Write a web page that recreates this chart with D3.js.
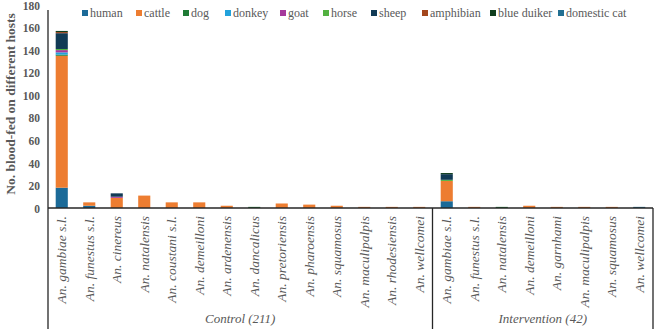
<!DOCTYPE html>
<html lang="en">
<head>
<meta charset="UTF-8">
<title>Blood-fed Anopheles by host</title>
<script src="https://d3js.org/d3.v7.min.js"></script>
</head>
<body style="margin:0; background:#fff">
<div id="chart"></div>
<script>
// categories, per group
var controlSpecies = ["An. gambiae s.l.", "An. funestus s.l.", "An. cinereus", "An. natalensis",
  "An. coustani s.l.", "An. demeilloni", "An. ardenensis", "An. dancalicus", "An. pretoriensis",
  "An. pharoensis", "An. squamosus", "An. maculipalpis", "An. rhodesiensis", "An. wellcomei"];
var interventionSpecies = ["An. gambiae s.l.", "An. funestus s.l.", "An. natalensis", "An. demeilloni",
  "An. garnhami", "An. maculipalpis", "An. squamosus", "An. wellcomei"];
var groupLabels = ["Control (211)", "Intervention (42)"];

var hosts = ["human", "cattle", "dog", "donkey", "goat", "horse", "sheep", "amphibian", "blue duiker", "domestic cat"];
var hostColors = ["#1b6a98", "#ed7d31", "#1f7a35", "#22a2dc", "#a6399b", "#52b140", "#113a55", "#a3461c", "#0f3d1d", "#226f92"];

// counts: 14 control values then 8 intervention values
var human       = [18, 2, 0, 0, 0, 0, 0, 0, 0, 0, 0, 0, 0, 0,   6, 0, 0, 0, 0, 0, 0, 0];
var cattle      = [117, 3, 9, 11, 5, 5, 2, 0, 4, 3, 2, 1, 1, 1, 18, 1, 0, 2, 1, 1, 1, 0];
var dog         = [1, 0, 0, 0, 0, 0, 0, 1, 0, 0, 0, 0, 0, 0,    0, 0, 1, 0, 0, 0, 0, 0];
var donkey      = [2, 0, 0, 0, 0, 0, 0, 0, 0, 0, 0, 0, 0, 0,    0, 0, 0, 0, 0, 0, 0, 0];
var goat        = [2, 0, 1, 0, 0, 0, 0, 0, 0, 0, 0, 0, 0, 0,    0, 0, 0, 0, 0, 0, 0, 0];
var horse       = [1, 0, 0, 0, 0, 0, 0, 0, 0, 0, 0, 0, 0, 0,    1, 0, 0, 0, 0, 0, 0, 0];
var sheep       = [14, 0, 3, 0, 0, 0, 0, 0, 0, 0, 0, 0, 0, 0,   5, 0, 0, 0, 0, 0, 0, 0];
var amphibian   = [1, 0, 0, 0, 0, 0, 0, 0, 0, 0, 0, 0, 0, 0,    0, 0, 0, 0, 0, 0, 0, 0];
var blueDuiker  = [1, 0, 0, 0, 0, 0, 0, 0, 0, 0, 0, 0, 0, 0,    1, 0, 0, 0, 0, 0, 0, 0];
var domesticCat = [0, 0, 0, 0, 0, 0, 0, 0, 0, 0, 0, 0, 0, 0,    0, 0, 0, 0, 0, 0, 0, 1];
var yTicks = [0, 20, 40, 60, 80, 100, 120, 140, 160, 180];

var series = [human, cattle, dog, donkey, goat, horse, sheep, amphibian, blueDuiker, domesticCat];

var W = 655, H = 329;
var left = 48, right = 653, baseY = 208, topY = 5;
var serif = "'Liberation Serif'";
var grey = "#595959";

var cats = controlSpecies.map(function (s) { return {key: "c|" + s, label: s, group: 0}; })
  .concat(interventionSpecies.map(function (s) { return {key: "i|" + s, label: s, group: 1}; }));

var rows = cats.map(function (c, i) {
  var r = {key: c.key};
  hosts.forEach(function (h, j) { r[h] = series[j][i]; });
  return r;
});

var svg = d3.select("#chart").append("svg").attr("width", W).attr("height", H);

var x = d3.scaleBand().domain(cats.map(function (c) { return c.key; }))
  .range([left, right]).paddingInner(0.56).paddingOuter(0.28);
var y = d3.scaleLinear().domain([0, 180]).range([baseY, topY]);
var color = d3.scaleOrdinal().domain(hosts).range(hostColors);

var stacked = d3.stack().keys(hosts)(rows);

svg.append("g").selectAll("g").data(stacked).enter().append("g")
  .attr("fill", function (d) { return color(d.key); })
  .selectAll("rect").data(function (d) { return d; }).enter().append("rect")
  .attr("x", function (d) { return x(d.data.key); })
  .attr("width", x.bandwidth())
  .attr("y", function (d) { return y(d[1]); })
  .attr("height", function (d) { return y(d[0]) - y(d[1]); });

// y axis
var yAxis = svg.append("g").attr("transform", "translate(" + left + ",0)")
  .call(d3.axisLeft(y).tickValues(yTicks).tickSize(0).tickPadding(8));
yAxis.select(".domain").remove();
yAxis.selectAll("text")
  .style("font-family", serif)
  .style("font-size", "11.5px").style("font-weight", "bold").attr("fill", grey)
  .attr("dy", "0.36em");

svg.append("text")
  .attr("transform", "translate(15," + 104 + ") rotate(-90)")
  .attr("text-anchor", "middle")
  .style("font-family", serif).attr("fill", grey)
  .style("font-size", "13.5px").style("font-weight", "bold")
  .text("No. blood-fed on different hosts");

// frame lines
var sepX = x(cats[controlSpecies.length].key) - x.step() * x.paddingInner() / 2 - 0.5;
var ln = svg.append("g").attr("stroke", "#262626").attr("stroke-width", 1.3);
ln.append("line").attr("x1", left).attr("x2", left).attr("y1", topY + 5).attr("y2", H);
ln.append("line").attr("x1", left).attr("x2", right).attr("y1", baseY).attr("y2", baseY);
ln.append("line").attr("x1", sepX).attr("x2", sepX).attr("y1", baseY).attr("y2", H);
ln.append("line").attr("x1", right).attr("x2", right).attr("y1", baseY).attr("y2", H);

// category labels
svg.append("g").selectAll("text").data(cats).enter().append("text")
  .attr("transform", function (c) {
    return "translate(" + (x(c.key) + x.bandwidth() / 2 + 4.5) + "," + (baseY + 8) + ") rotate(-90)";
  })
  .attr("text-anchor", "end")
  .style("font-family", serif).attr("fill", grey)
  .style("font-size", "13.5px").style("font-style", "italic")
  .text(function (c) { return c.label; });

// group labels
var groupCenters = [(left + sepX) / 2, (sepX + right) / 2];
svg.append("g").selectAll("text").data(groupLabels).enter().append("text")
  .attr("x", function (d, i) { return groupCenters[i]; })
  .attr("y", 323)
  .attr("text-anchor", "middle")
  .style("font-family", serif).attr("fill", grey)
  .style("font-size", "13px").style("font-style", "italic")
  .text(function (d) { return d; });

// legend
var legendX = [82, 136, 183, 225, 280, 323, 371, 422, 490, 558];
var lg = svg.append("g").selectAll("g").data(hosts).enter().append("g")
  .attr("transform", function (d, i) { return "translate(" + legendX[i] + ",16)"; });
lg.append("rect").attr("x", 0).attr("y", -6).attr("width", 6).attr("height", 6)
  .attr("fill", function (d) { return color(d); });
lg.append("text").attr("x", 8).attr("y", 1)
  .style("font-family", serif).attr("fill", grey)
  .style("font-size", "12px")
  .text(function (d) { return d; });
</script>
</body>
</html>
